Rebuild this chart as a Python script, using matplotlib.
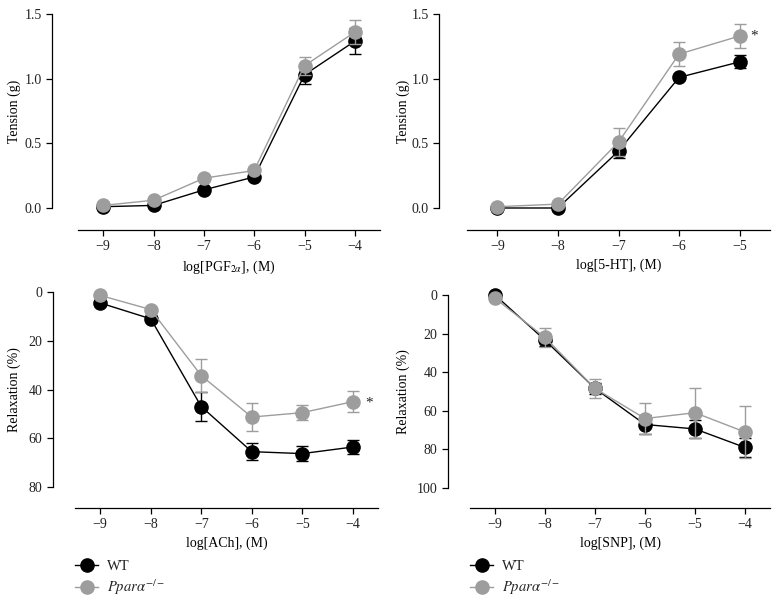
import numpy as np
import matplotlib
matplotlib.use("Agg")
import matplotlib.pyplot as plt
from matplotlib.lines import Line2D
from matplotlib.transforms import blended_transform_factory

plt.rcParams.update({
    "font.family": ["Liberation Serif", "DejaVu Serif"],
    "mathtext.fontset": "stix",
    "font.size": 10,
    "axes.linewidth": 0.9,
    "xtick.major.width": 0.9,
    "ytick.major.width": 0.9,
    "xtick.major.size": 4,
    "ytick.major.size": 4,
    "text.color": "#222222",
    "xtick.labelcolor": "#222222",
    "ytick.labelcolor": "#222222",
})

C_WT = "black"
C_KO = "#9d9d9d"

# ── data ──
pgf_x = [-9, -8, -7, -6, -5, -4]
pgf_wt = [0.01, 0.02, 0.14, 0.24, 1.03, 1.29]
pgf_wt_err = [0.0, 0.0, 0.0, 0.0, 0.07, 0.10]
pgf_ko = [0.02, 0.06, 0.23, 0.29, 1.10, 1.36]
pgf_ko_err = [0.0, 0.0, 0.0, 0.0, 0.07, 0.09]

ht_x = [-9, -8, -7, -6, -5]
ht_wt = [0.0, 0.0, 0.44, 1.01, 1.13]
ht_wt_err = [0.0, 0.0, 0.05, 0.0, 0.05]
ht_ko = [0.01, 0.03, 0.51, 1.19, 1.33]
ht_ko_err = [0.0, 0.0, 0.11, 0.09, 0.09]

ach_x = [-9, -8, -7, -6, -5, -4]
ach_wt = [4.5, 11.0, 47.0, 65.5, 66.3, 63.6]
ach_wt_err = [0.0, 0.0, 5.8, 3.5, 3.0, 3.0]
ach_ko = [1.4, 7.2, 34.3, 51.3, 49.5, 45.0]
ach_ko_err = [0.0, 0.0, 6.8, 5.8, 3.0, 4.4]

snp_x = [-9, -8, -7, -6, -5, -4]
snp_wt = [0.0, 23.4, 48.4, 67.1, 69.4, 79.0]
snp_wt_err = [0.0, 3.0, 3.0, 5.0, 4.6, 5.0]
snp_ko = [1.7, 22.0, 48.4, 64.0, 61.0, 71.0]
snp_ko_err = [0.0, 4.7, 5.0, 8.0, 13.0, 13.6]

W, H = 777, 602
fig = plt.figure(figsize=(W / 100, H / 100), dpi=100)


def make_ax(x0, x1, ytop, ybot, yspine_x, xspine_y):
    ax = fig.add_axes([x0 / W, 1 - ybot / H, (x1 - x0) / W, (ybot - ytop) / H])
    for s in ("top", "right"):
        ax.spines[s].set_visible(False)
    ax.spines["left"].set_position(("outward", (x0 - yspine_x) * 0.72))
    ax.spines["bottom"].set_position(("outward", (xspine_y - ybot) * 0.72))
    return ax


def draw(ax, x, wt, wt_err, ko, ko_err):
    ax.errorbar(x, wt, yerr=wt_err, color=C_WT, lw=1.0, marker="o", ms=9.5,
                mec=C_WT, mfc=C_WT, capsize=4, elinewidth=1.0, capthick=1.0,
                clip_on=False, zorder=3)
    ax.errorbar(x, ko, yerr=ko_err, color=C_KO, lw=1.0, marker="o", ms=9.5,
                mec=C_KO, mfc=C_KO, capsize=4, elinewidth=1.0, capthick=1.0,
                clip_on=False, zorder=4)


def minus(xs):
    return [f"\u2212{abs(v)}" for v in xs]


# panel a: PGF2a
ax1 = make_ax(78, 380, 14, 208, 52, 230)
draw(ax1, pgf_x, pgf_wt, pgf_wt_err, pgf_ko, pgf_ko_err)
ax1.set_xlim(-9.5, -3.5)
ax1.set_ylim(0, 1.5)
ax1.set_xticks(pgf_x)
ax1.set_xticklabels(minus(pgf_x))
ax1.set_yticks([0.0, 0.5, 1.0, 1.5])
ax1.set_yticklabels(["0.0", "0.5", "1.0", "1.5"])
ax1.set_ylabel("Tension (g)")
ax1.set_xlabel(r"log[PGF$_{2\alpha}$], (M)", labelpad=4)

# panel b: 5-HT
ax2 = make_ax(467, 770, 14, 208, 439, 230)
draw(ax2, ht_x, ht_wt, ht_wt_err, ht_ko, ht_ko_err)
ax2.set_xlim(-9.5, -4.5)
ax2.set_ylim(0, 1.5)
ax2.set_xticks(ht_x)
ax2.set_xticklabels(minus(ht_x))
ax2.set_yticks([0.0, 0.5, 1.0, 1.5])
ax2.set_yticklabels(["0.0", "0.5", "1.0", "1.5"])
ax2.set_ylabel("Tension (g)")
ax2.set_xlabel("log[5-HT], (M)", labelpad=4)
ax2.text(-4.83, 1.33, "*", fontsize=11, va="center", ha="left")

# panel c: ACh
ax3 = make_ax(75, 378, 292, 487, 53, 508)
draw(ax3, ach_x, ach_wt, ach_wt_err, ach_ko, ach_ko_err)
ax3.set_xlim(-9.5, -3.5)
ax3.set_ylim(80, 0)
ax3.set_xticks(ach_x)
ax3.set_xticklabels(minus(ach_x))
ax3.set_yticks([0, 20, 40, 60, 80])
ax3.set_ylabel("Relaxation (%)")
ax3.set_xlabel("log[ACh], (M)", labelpad=4)
ax3.text(-3.75, 45.5, "*", fontsize=11, va="center", ha="left")

# panel d: SNP
ax4 = make_ax(470, 770, 295, 488, 448, 508)
draw(ax4, snp_x, snp_wt, snp_wt_err, snp_ko, snp_ko_err)
ax4.set_xlim(-9.5, -3.5)
ax4.set_ylim(100, 0)
ax4.set_xticks(snp_x)
ax4.set_xticklabels(minus(snp_x))
ax4.set_yticks([0, 20, 40, 60, 80, 100])
ax4.set_ylabel("Relaxation (%)")
ax4.set_xlabel("log[SNP], (M)", labelpad=4)

# y-label positions in figure pixels
for ax, xp in ((ax1, 21), (ax2, 410), (ax3, 21), (ax4, 410)):
    ax.yaxis.set_label_coords(xp / W, 0.5)
    ax.yaxis.label.set_transform(blended_transform_factory(fig.transFigure, ax.transAxes))

handles = [
    Line2D([], [], color=C_WT, marker="o", ms=9.5, lw=1.0),
    Line2D([], [], color=C_KO, marker="o", ms=9.5, lw=1.0),
]
labels = ["WT", r"$Ppar\alpha^{-/-}$"]
for xl in (75, 470):
    fig.legend(handles, labels, loc="upper left",
               bbox_to_anchor=(xl / W, 1 - 560 / H), frameon=False,
               handlelength=1.6, handletextpad=0.6, labelspacing=0.3,
               borderaxespad=0, borderpad=0, fontsize=10.5)

fig.savefig("out.png", dpi=100)
